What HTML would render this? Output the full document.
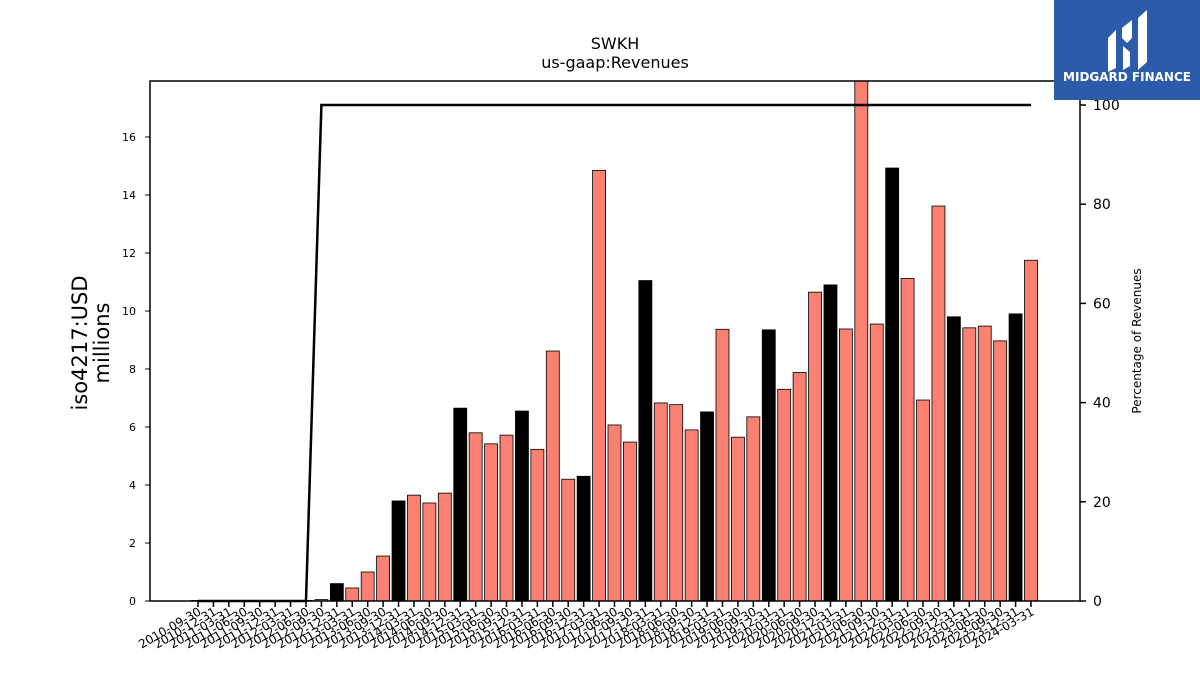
<!DOCTYPE html>
<html><head><meta charset="utf-8"><style>
body{margin:0;background:#fff;}
svg text{font-family:"DejaVu Sans","Liberation Sans",sans-serif;}
</style></head><body>
<svg id="chart" width="1200" height="675" xmlns="http://www.w3.org/2000/svg">
<rect width="1200" height="675" fill="#fff"/>
<text x="615" y="49" text-anchor="middle" font-size="16">SWKH</text>
<text x="615" y="68" text-anchor="middle" font-size="16">us-gaap:Revenues</text>
<g id="bars"></g>
<g id="line"></g>
<rect x="150" y="81" width="930" height="520" fill="none" stroke="#000" stroke-width="1.5"/>
<g id="ly"></g>
<g id="ry"></g>
<g id="xa"></g>
<text transform="translate(87,343) rotate(-90)" text-anchor="middle" font-size="21"><tspan x="0" dy="0">iso4217:USD</tspan><tspan x="0" dy="22">millions</tspan></text>
<text transform="translate(1141,341) rotate(-90)" text-anchor="middle" font-size="12">Percentage of Revenues</text>
<g>
<rect x="1054" y="0" width="146" height="100" fill="#2c5ba9"/>
<path d="M1108 38 L1116 30 L1116 68 L1108 72 Z M1122 28 L1132 20 L1132 38 L1127 43 L1122 38 Z M1123 46 L1130 52 L1130 66 L1123 70 Z M1138 18 L1147 10 L1147 62 L1138 70 Z" fill="#fff"/>
<text x="1127" y="81" text-anchor="middle" font-size="12" font-weight="bold" fill="#fff">MIDGARD FINANCE</text>
</g>
</svg>
<script>
const categories=[];
(function(){const q=["03-31","06-30","09-30","12-31"];let y=2010,i=2;while(!(y===2024&&i===1)){categories.push(y+"-"+q[i]);i++;if(i>3){i=0;y++;}}})();
const revenues=[0.02,0.02,0.02,0.02,0.02,0.02,0.02,0.02,0.05,0.6,0.45,1.0,1.55,3.45,3.65,3.38,3.72,6.65,5.8,5.42,5.72,6.55,5.23,8.62,4.2,4.3,14.85,6.07,5.48,11.05,6.83,6.77,5.9,6.52,9.37,5.65,6.35,9.35,7.3,7.88,10.65,10.9,9.38,18.5,9.55,14.93,11.12,6.93,13.62,9.8,9.42,9.48,8.97,9.9,11.75];
const annual=categories.map(c=>c.endsWith("12-31"));
const pct=categories.map((c,i)=>i<8?0:100);
const leftTicks=[0,2,4,6,8,10,12,14,16];
const rightTicks=[0,20,40,60,80,100];
const NS="http://www.w3.org/2000/svg";
const X0=198,DX=(1031-198)/54,yL=v=>601-v*29,yR=v=>601-v*4.96,xs=i=>X0+i*DX;
function el(t,a,p){const e=document.createElementNS(NS,t);for(const k in a)e.setAttribute(k,a[k]);document.getElementById(p).appendChild(e);return e;}
revenues.forEach((v,i)=>{const top=Math.max(yL(v),81);
const r=el("rect",{x:xs(i)-6.5,y:top,width:13,height:601-top,fill:annual[i]?"#000":"#fa8072",stroke:"#000","stroke-width":0.8},"bars");

});
const pl=el("polyline",{points:pct.map((v,i)=>xs(i)+","+yR(v)).join(" "),fill:"none",stroke:"#000","stroke-width":2.5},"line");


leftTicks.forEach(t=>{const y=yL(t);el("line",{x1:145,x2:150,y1:y,y2:y,stroke:"#000"},"ly");
const tx=el("text",{x:136,y:y+4,"text-anchor":"end","font-size":11},"ly");tx.textContent=t;

});
rightTicks.forEach(t=>{const y=yR(t);el("line",{x1:1080,x2:1086,y1:y,y2:y,stroke:"#000","stroke-width":1.5},"ry");
const tx=el("text",{x:1093,y:y+5,"font-size":14},"ry");tx.textContent=t;

});
categories.forEach((c,i)=>{const x=xs(i);el("line",{x1:x,x2:x,y1:601,y2:607,stroke:"#000","stroke-width":1.5},"xa");
const tx=el("text",{transform:"translate("+(x+4)+",614) rotate(-30)","text-anchor":"end","font-size":12},"xa");tx.textContent=c;

});
</script>
</body></html>
